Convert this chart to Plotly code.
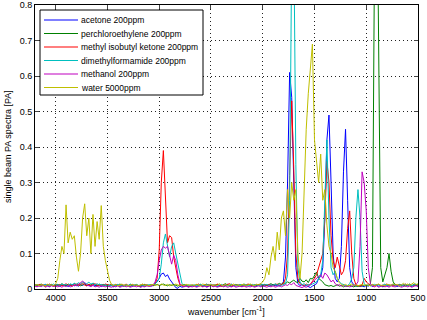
import plotly.graph_objects as go

# wavenumber grid (cm^-1), 20 cm^-1 steps from 4200 down to 500
wavenumber = list(range(4200, 499, -20))

names = ["acetone 200ppm", "perchloroethylene 200ppm", "methyl isobutyl ketone 200ppm",
         "dimethylformamide 200ppm", "methanol 200ppm", "water 5000ppm"]
colors = ["#0000ff", "#008000", "#ff0000", "#00bfbf", "#bf00bf", "#bfbf00"]

acetone = (
    [0.010,0.012,0.008,0.011,0.009,0.013,0.010,0.007,0.011,0.009,0.012]
    + [0.010,0.008,0.012,0.009,0.011,0.007,0.010,0.013,0.009,0.011,0.008,0.012,0.010,0.014,0.009,0.011,0.008,0.012,0.010,0.009,0.011,0.007,0.010,0.012,0.009]
    + [0.008,0.010,0.006,0.009,0.011,0.007,0.010,0.008,0.012,0.009,0.007,0.010,0.008,0.011,0.009,0.006,0.010,0.008,0.011,0.009]
    + [0.008,0.010,0.014,0.022,0.030,0.042,0.045,0.035,0.040,0.028,0.020,0.014,0.004,0.002,0.008,0.005,0.007,0.009,0.006,0.008]
    + [0.008,0.010,0.007,0.009,0.011,0.008,0.010,0.006,0.009,0.012,0.008,0.010,0.007,0.009,0.011,0.008,0.010,0.013,0.009,0.007,0.010,0.008,0.011,0.009,0.007,0.010,0.008,0.012,0.009,0.010,0.007,0.009,0.011,0.008,0.010]
    + [0.009,0.011,0.008,0.010,0.012,0.009,0.011,0.008,0.012,0.020,0.090,0.300,0.610,0.540,0.250,0.060,0.015,0.010,0.012,0.008,0.010,0.006,0.004,0.008,0.012]
    + [0.015,0.030,0.035,0.060,0.200,0.420,0.490,0.300,0.100,0.030,0.020,0.030,0.120,0.330,0.450,0.250,0.060,0.020,0.012,0.008,0.010,0.007,0.009,0.006,0.010]
    + [0.008,0.011,0.007,0.010,0.012,0.008,0.010,0.006,0.009,0.011,0.008,0.010,0.013,0.009,0.007,0.010,0.012,0.008,0.011,0.009,0.010,0.007,0.012,0.009,0.011]
)

perchloroethylene = (
    [0.012,0.009,0.011,0.014,0.010,0.008,0.012,0.010,0.013,0.009,0.011]
    + [0.013,0.010,0.015,0.011,0.009,0.014,0.012,0.010,0.016,0.011,0.013,0.009,0.012,0.015,0.010,0.013,0.011,0.017,0.012,0.010,0.014,0.011,0.013,0.009,0.012]
    + [0.011,0.013,0.009,0.012,0.010,0.014,0.011,0.008,0.012,0.010,0.013,0.009,0.011,0.012,0.010,0.008,0.011,0.013,0.009,0.010]
    + [0.012,0.009,0.011,0.013,0.010,0.012,0.014,0.011,0.009,0.012,0.010,0.013,0.011,0.008,0.012,0.010,0.013,0.009,0.011,0.010]
    + [0.011,0.009,0.012,0.010,0.013,0.008,0.011,0.014,0.010,0.012,0.009,0.011,0.013,0.010,0.008,0.012,0.015,0.011,0.009,0.012,0.010,0.013,0.011,0.009,0.012,0.014,0.010,0.011,0.013,0.009,0.012,0.010,0.011,0.014,0.012]
    + [0.013,0.010,0.012,0.015,0.011,0.014,0.012,0.016,0.013,0.018,0.015,0.020,0.017,0.022,0.025,0.020,0.018,0.030,0.022,0.020,0.026,0.018,0.030,0.028,0.040]
    + [0.048,0.030,0.025,0.020,0.012,0.010,0.008,0.010,0.007,0.009,0.012,0.008,0.010,0.006,0.009,0.007,0.010,0.008,0.006,0.009,0.007,0.010,0.008,0.011,0.009]
    + [0.010,0.015,0.060,0.950,1.300,0.700,0.060,0.020,0.040,0.060,0.100,0.050,0.020,0.012,0.009,0.013,0.010,0.012,0.008,0.011,0.014,0.010,0.012,0.009,0.013]
)

mibk = (
    [0.011,0.008,0.013,0.010,0.012,0.009,0.011,0.014,0.010,0.008,0.012]
    + [0.010,0.013,0.009,0.011,0.015,0.010,0.012,0.008,0.011,0.014,0.010,0.012,0.016,0.011,0.009,0.013,0.010,0.012,0.015,0.011,0.009,0.012,0.010,0.014,0.011]
    + [0.010,0.012,0.009,0.013,0.011,0.008,0.012,0.010,0.014,0.009,0.011,0.013,0.010,0.012,0.008,0.011,0.013,0.010,0.012,0.009]
    + [0.010,0.012,0.015,0.030,0.110,0.300,0.390,0.240,0.130,0.150,0.145,0.090,0.060,0.030,0.012,0.010,0.008,0.011,0.007,0.010]
    + [0.011,0.009,0.012,0.014,0.010,0.008,0.012,0.011,0.013,0.009,0.012,0.010,0.014,0.011,0.008,0.012,0.010,0.013,0.015,0.011,0.009,0.012,0.010,0.013,0.011,0.008,0.012,0.014,0.010,0.011,0.009,0.013,0.011,0.012,0.010]
    + [0.012,0.010,0.013,0.011,0.009,0.012,0.014,0.010,0.012,0.015,0.030,0.100,0.320,0.530,0.340,0.100,0.030,0.015,0.012,0.010,0.014,0.011,0.013,0.020,0.030]
    + [0.040,0.060,0.080,0.100,0.200,0.360,0.300,0.150,0.080,0.060,0.090,0.060,0.040,0.050,0.080,0.170,0.220,0.100,0.030,0.012,0.010,0.008,0.011,0.030,0.020]
    + [0.015,0.010,0.012,0.009,0.011,0.013,0.010,0.008,0.012,0.014,0.010,0.011,0.009,0.013,0.010,0.012,0.008,0.011,0.014,0.010,0.012,0.009,0.011,0.013,0.010]
)

dmf = (
    [0.009,0.012,0.010,0.008,0.011,0.013,0.009,0.012,0.010,0.014,0.011]
    + [0.012,0.010,0.014,0.011,0.013,0.009,0.015,0.012,0.016,0.013,0.018,0.014,0.020,0.017,0.015,0.019,0.014,0.016,0.012,0.015,0.011,0.013,0.010,0.012,0.009]
    + [0.011,0.009,0.012,0.010,0.013,0.008,0.011,0.010,0.012,0.009,0.014,0.010,0.011,0.013,0.009,0.012,0.010,0.008,0.011,0.012]
    + [0.010,0.012,0.015,0.020,0.030,0.070,0.130,0.155,0.120,0.090,0.120,0.130,0.100,0.070,0.040,0.015,0.010,0.012,0.009,0.011]
    + [0.010,0.012,0.009,0.011,0.013,0.010,0.008,0.012,0.011,0.014,0.010,0.012,0.009,0.011,0.013,0.010,0.012,0.008,0.011,0.014,0.010,0.012,0.009,0.013,0.011,0.010,0.012,0.008,0.011,0.013,0.010,0.012,0.009,0.011,0.013]
    + [0.011,0.013,0.010,0.012,0.009,0.014,0.011,0.012,0.010,0.013,0.015,0.040,0.250,0.950,1.000,0.350,0.060,0.020,0.012,0.015,0.010,0.013,0.011,0.014,0.018]
    + [0.020,0.030,0.040,0.080,0.250,0.420,0.200,0.060,0.040,0.050,0.030,0.020,0.015,0.012,0.010,0.010,0.015,0.030,0.060,0.200,0.280,0.200,0.050,0.015,0.010]
    + [0.012,0.009,0.011,0.013,0.010,0.012,0.008,0.011,0.014,0.010,0.012,0.009,0.013,0.011,0.010,0.012,0.008,0.011,0.013,0.010,0.012,0.009,0.011,0.014,0.010]
)

methanol = (
    [0.008,0.006,0.009,0.007,0.010,0.005,0.008,0.006,0.009,0.007,0.008]
    + [0.006,0.008,0.005,0.009,0.007,0.010,0.006,0.008,0.012,0.009,0.015,0.018,0.022,0.016,0.012,0.009,0.007,0.010,0.006,0.008,0.005,0.009,0.007,0.006,0.008]
    + [0.007,0.005,0.008,0.006,0.009,0.005,0.007,0.010,0.006,0.008,0.005,0.007,0.009,0.006,0.008,0.005,0.007,0.006,0.009,0.007]
    + [0.008,0.010,0.020,0.040,0.080,0.110,0.120,0.115,0.120,0.090,0.070,0.095,0.080,0.040,0.015,0.008,0.006,0.009,0.005,0.007]
    + [0.006,0.008,0.005,0.007,0.009,0.006,0.008,0.005,0.007,0.010,0.006,0.008,0.005,0.007,0.009,0.006,0.008,0.005,0.007,0.006,0.009,0.005,0.007,0.008,0.006,0.009,0.005,0.007,0.006,0.008,0.005,0.007,0.009,0.006,0.008]
    + [0.007,0.005,0.008,0.006,0.009,0.005,0.007,0.010,0.006,0.008,0.012,0.010,0.015,0.012,0.018,0.010,0.008,0.006,0.004,0.007,0.005,0.008,0.012,0.018,0.025]
    + [0.030,0.035,0.040,0.030,0.045,0.040,0.030,0.020,0.025,0.015,0.010,0.012,0.008,0.010,0.007,0.009,0.006,0.008,0.010,0.012,0.020,0.120,0.330,0.300,0.220]
    + [0.060,0.015,0.008,0.006,0.009,0.005,0.007,0.010,0.006,0.008,0.005,0.009,0.007,0.006,0.010,0.008,0.005,0.007,0.009,0.006,0.008,0.005,0.007,0.010,0.006]
)

water = (
    [0.010,0.013,0.009,0.012,0.011,0.008,0.014,0.010,0.012,0.009,0.015]
    + [0.030,0.080,0.120,0.100,0.237,0.130,0.160,0.140,0.150,0.090,0.050,0.100,0.200,0.240,0.150,0.200,0.100,0.210,0.120,0.190,0.140,0.235,0.120,0.080,0.050]
    + [0.025,0.012,0.010,0.013,0.009,0.011,0.014,0.010,0.012,0.008,0.011,0.013,0.010,0.012,0.009,0.011,0.014,0.010,0.012,0.009]
    + [0.011,0.013,0.010,0.012,0.009,0.014,0.011,0.010,0.013,0.009,0.012,0.010,0.014,0.011,0.009,0.012,0.010,0.013,0.011,0.010]
    + [0.012,0.010,0.013,0.011,0.009,0.014,0.012,0.010,0.011,0.013,0.009,0.012,0.010,0.015,0.011,0.009,0.013,0.010,0.012,0.011,0.014,0.010,0.012,0.009,0.013,0.011,0.010,0.012,0.014,0.011,0.009,0.013,0.012,0.015,0.020]
    + [0.030,0.060,0.040,0.090,0.120,0.080,0.160,0.110,0.200,0.220,0.150,0.280,0.200,0.300,0.250,0.280,0.100,0.030,0.100,0.300,0.450,0.550,0.620,0.690,0.420]
    + [0.350,0.300,0.380,0.250,0.280,0.180,0.120,0.100,0.060,0.050,0.030,0.018,0.012,0.010,0.013,0.009,0.011,0.014,0.010,0.012,0.009,0.011,0.013,0.010,0.012]
    + [0.011,0.009,0.013,0.010,0.012,0.014,0.010,0.011,0.009,0.013,0.012,0.010,0.015,0.011,0.013,0.009,0.012,0.016,0.011,0.014,0.010,0.013,0.018,0.012,0.015]
)

series = [acetone, perchloroethylene, mibk, dmf, methanol, water]
for s in series:
    assert len(s) == len(wavenumber), (len(s), len(wavenumber))

x_ticks = [4000, 3500, 3000, 2500, 2000, 1500, 1000, 500]
y_ticks = [0, 0.1, 0.2, 0.3, 0.4, 0.5, 0.6, 0.7, 0.8]
y_ticklabels = ["0", "0.1", "0.2", "0.3", "0.4", "0.5", "0.6", "0.7", "0.8"]

FONT = "Liberation Sans, Arial, Helvetica, sans-serif"
W, H = 427, 320
ML, MR, MT, MB = 35, 9, 5, 31

fig = go.Figure()
for name, col, ys in zip(names, colors, series):
    fig.add_trace(go.Scatter(x=wavenumber, y=ys, mode="lines", name=name,
                             line=dict(color=col, width=1), showlegend=False))

# MATLAB-style legend box drawn in paper coordinates
pw = W - ML - MR
ph = H - MT - MB
def px_x(px):
    return (px - ML) / pw
def px_y(py):
    return (H - MB - py) / ph

shapes = [dict(type="rect", xref="paper", yref="paper",
               x0=px_x(40), x1=px_x(203), y0=px_y(95), y1=px_y(10),
               line=dict(color="black", width=1), fillcolor="white", layer="above")]
annotations = []
for i, (name, col) in enumerate(zip(names, colors)):
    py = 20 + 13.5 * i
    shapes.append(dict(type="line", xref="paper", yref="paper",
                       x0=px_x(44), x1=px_x(78), y0=px_y(py), y1=px_y(py),
                       line=dict(color=col, width=1.2), layer="above"))
    annotations.append(dict(xref="paper", yref="paper", x=px_x(79), y=px_y(py),
                            text=name, showarrow=False, xanchor="left", yanchor="middle",
                            font=dict(size=8.5, color="black", family=FONT)))

# axis titles placed as annotations (MATLAB positions)
annotations.append(dict(xref="paper", yref="paper", x=px_x(226), y=px_y(311),
                        text="wavenumber [cm<sup>-1</sup>]", showarrow=False,
                        xanchor="center", yanchor="middle",
                        font=dict(size=9, color="black", family=FONT)))
annotations.append(dict(xref="paper", yref="paper", x=px_x(8), y=px_y(147),
                        text="single beam PA spectra [PA]", showarrow=False, textangle=-90,
                        xanchor="center", yanchor="middle",
                        font=dict(size=9, color="black", family=FONT)))

GRID_DASH = "1px,3px"
fig.update_layout(
    width=W, height=H,
    margin=dict(l=ML, r=MR, t=MT, b=MB),
    paper_bgcolor="white", plot_bgcolor="white",
    font=dict(family=FONT, size=9, color="black"),
    shapes=shapes, annotations=annotations,
    xaxis=dict(range=[4200, 500], tickvals=x_ticks, ticks="inside", ticklen=4,
               showline=True, linecolor="black", linewidth=1, mirror="ticks",
               showgrid=True, gridcolor="#222", griddash=GRID_DASH, gridwidth=1,
               zeroline=False, tickfont=dict(size=9), automargin=False),
    yaxis=dict(range=[0, 0.8], tickvals=y_ticks, ticktext=y_ticklabels, ticks="inside", ticklen=4,
               showline=True, linecolor="black", linewidth=1, mirror="ticks",
               showgrid=True, gridcolor="#222", griddash=GRID_DASH, gridwidth=1,
               zeroline=False, tickfont=dict(size=9), automargin=False),
)

# remove the browser's default 8px body margin so the figure sits at the page origin
fig.write_html("out.html", config={"displayModeBar": False},
               post_script="document.body.style.margin='0';")
